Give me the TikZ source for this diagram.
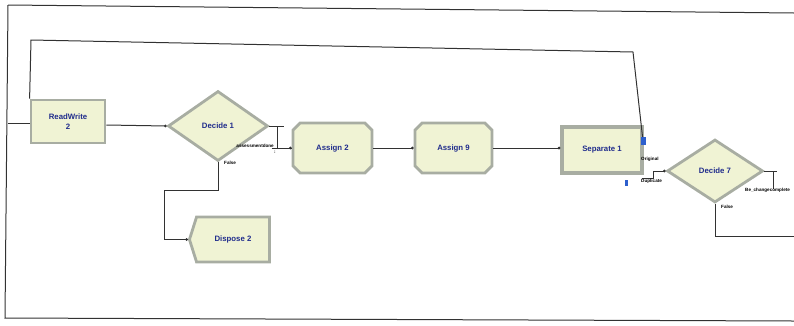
\documentclass[tikz,border=0pt]{standalone}
\usepackage{fontspec}
\setmainfont{Liberation Sans}
\usetikzlibrary{shapes.geometric,shapes.misc,shapes.symbols,arrows.meta}
\definecolor{modfill}{RGB}{240,243,212}
\definecolor{modedge}{RGB}{168,173,162}
\definecolor{modtext}{RGB}{32,44,140}
\definecolor{wire}{RGB}{50,50,50}
\definecolor{portblue}{RGB}{45,95,205}

\begin{document}
\begin{tikzpicture}[x=1pt,y=-1pt,
  module/.style={fill=modfill, draw=modedge, line width=2.8pt, inner sep=0pt,
    font=\fontsize{7.8}{9.5}\selectfont\bfseries, text=modtext, align=center},
  boxmod/.style={module, rectangle},
  sepmod/.style={module, rectangle, line width=3.4pt},
  assignmod/.style={module, chamfered rectangle, chamfered rectangle xsep=6pt},
  decmod/.style={module, diamond},
  dispmod/.style={module, signal, signal to=west, signal from=nothing, signal pointer angle=145},
  wire/.style={draw=wire, line width=1pt},
  link/.style={wire, -{Circle[length=2.6pt]}},
  exitlabel/.style={font=\fontsize{4.6}{4.6}\selectfont\bfseries, text=black, inner sep=0pt},
  port/.style={fill=portblue, draw=none}
]
\useasboundingbox (0,0) rectangle (794,325);

% outer frame
\draw[wire, line width=1pt] (8,5) -- (794,13);
\draw[wire, line width=1pt] (8,5) -- (5,318) -- (794,321);

% modules
\node[boxmod, minimum width=74pt, minimum height=43pt] (rw) at (68,121.5) {ReadWrite\\2};
\node[decmod, minimum width=100pt, minimum height=70pt] (d1) at (218,126) {Decide 1};
\node[assignmod, minimum width=79pt, minimum height=50pt] (a2) at (332.5,148) {Assign 2};
\node[assignmod, minimum width=77pt, minimum height=50pt] (a9) at (453.5,148) {Assign 9};
\node[sepmod, minimum width=80pt, minimum height=46pt] (sep) at (602,150) {Separate 1};
\node[decmod, minimum width=96pt, minimum height=63pt] (d7) at (715,171) {Decide 7};
\node[dispmod, minimum width=80pt, minimum height=45pt] (disp) at (233,239.5) {Dispose 2};

% free ends
\coordinate (inL) at (8,123);
\coordinate (sepOrig) at (643,141);
\coordinate (sepDup) at (642,178);
\coordinate (outR) at (794,236);

% incoming entity line
\draw[wire] (inL) -- (inL -| rw.west);

% loop back from Separate 1 (original) to ReadWrite 2
\draw[wire] (sepOrig) -- (633,52) -- (31,40) -- (rw.north west);

% main flow
\draw[link] (rw.east |- 0,125) -- (d1.west);
\draw[wire] (d1.east) -- ++(15,0);
\draw[wire] ([xshift=8pt]d1.east) |- (a2.west);
\draw[link] ([xshift=-20pt]a2.west) -- (a2.west);
\draw[link] (a2.east) -- (a9.west);
\draw[link] (a9.east) -- (a9.east -| sep.west);

% duplicate to Decide 7
\draw[link] (sepDup) -- (653,178) |- (d7.west);

% Decide 7 exits
\draw[wire] (d7.east) -- ++(13,0);
\draw[wire] ([xshift=9pt]d7.east) -- ++(0,18);
\draw[wire] (d7.south) |- (outR);

% Decide 1 false to Dispose 2
\draw[link] (d1.south) |- (164,190) |- (disp.west);

% exit ports
\fill[port] (641,137) rectangle (646,145);
\fill[port] (625,180) rectangle (628,186);

% exit labels
\node[exitlabel, anchor=east] at (274,145.5) {assessmentdone};
\node[exitlabel] at (275,152) {:};
\node[exitlabel, anchor=west] at (224,163) {False};
\node[exitlabel, anchor=west] at (641,159) {Original};
\node[exitlabel, anchor=west] at (641,181) {Duplicate};
\node[exitlabel, anchor=west] at (745,190) {Be\_changecomplete};
\node[exitlabel, anchor=west] at (721,207) {False};
\end{tikzpicture}
\end{document}
